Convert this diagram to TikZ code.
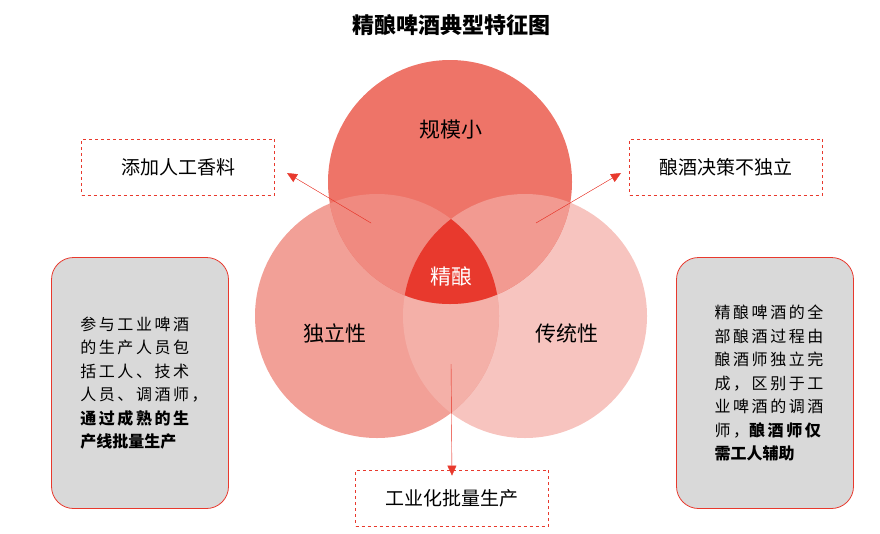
\documentclass[tikz,border=0pt]{standalone}
\usepackage{fontspec}
\setmainfont{Noto Sans CJK SC}
\newfontfamily\spaced[LetterSpace=16]{Noto Sans CJK SC}
\usetikzlibrary{arrows.meta}
\definecolor{topred}{HTML}{EE7468}
\definecolor{leftred}{HTML}{F2A097}
\definecolor{rightred}{HTML}{F7C4BF}
\definecolor{tlred}{HTML}{F08A80}
\definecolor{trred}{HTML}{F29A91}
\definecolor{lrred}{HTML}{F4B0A8}
\definecolor{corered}{HTML}{E8392D}
\definecolor{boxgray}{HTML}{D9D9D9}
\tikzset{
  dashbox/.style={draw=corered, dashed, thick, minimum width=193, minimum height=56, font=\fontsize{19}{22}\selectfont},
  notebox/.style={draw=corered, fill=boxgray, rounded corners=22, minimum width=177, minimum height=251, thick},
  pointer/.style={-{Triangle[length=10pt,width=9pt]}, draw=corered, fill=corered},
  circlabel/.style={font=\fontsize{21}{24}\selectfont}
}
\begin{document}
\begin{tikzpicture}[x=1pt,y=-1pt]
  \useasboundingbox (0,0) rectangle (880,533);
  \node[font=\bfseries\fontsize{22}{26}\selectfont] (title) at (451,25) {精酿啤酒典型特征图};
  % circles
  \coordinate (T) at (450,182);
  \coordinate (L) at (377,316);
  \coordinate (R) at (525,316);
  \fill[rightred] (R) circle (122);
  \fill[leftred] (L) circle (122);
  \fill[topred] (T) circle (122);
  \begin{scope}
    \clip (L) circle (122);
    \fill[lrred] (R) circle (122);
  \end{scope}
  \begin{scope}
    \clip (T) circle (122);
    \fill[tlred] (L) circle (122);
    \fill[trred] (R) circle (122);
    \clip (L) circle (122);
    \fill[corered] (R) circle (122);
  \end{scope}
  % labels
  \node[circlabel] (small) at (451,130) {规模小};
  \node[circlabel] (indep) at (335,333) {独立性};
  \node[circlabel] (trad) at (567,333) {传统性};
  \node[circlabel, text=white] (craft) at (451,276) {精酿};
  % dashed boxes
  \node[dashbox] (spice) at (178,167) {添加人工香料};
  \node[dashbox] (decide) at (726,167) {酿酒决策不独立};
  \node[dashbox] (mass) at (452,498) {工业化批量生产};
  \coordinate (a1) at (371,223);
  \coordinate (a2) at (536,223);
  \coordinate (a3) at (451,364);
  \coordinate (b1) at (287,173);
  \coordinate (b2) at (621,173);
  \draw[pointer] (a1) -- (b1);
  \draw[pointer] (a2) -- (b2);
  \draw[pointer] (a3) -- ([yshift=-6]mass.north);
  % notes
  \node[notebox] (lnote) at (140,383) {};
  \node[notebox] (rnote) at (765,383) {};
  \node[align=left, font=\fontsize{16}{23.5}\selectfont] at ([xshift=4]lnote.center)
    {{\spaced 参与工业啤酒}\\{\spaced 的生产人员包}\\{\spaced 括工人、技术}\\{\spaced 人员、调酒师，}\\{\spaced\bfseries 通过成熟的生}\\{\bfseries 产线批量生产}};
  \node[align=left, font=\fontsize{16}{23.5}\selectfont] at ([xshift=4]rnote.center)
    {{\spaced 精酿啤酒的全}\\{\spaced 部酿酒过程由}\\{\spaced 酿酒师独立完}\\{\spaced 成，区别于工}\\{\spaced 业啤酒的调酒}\\{\spaced 师，\bfseries 酿酒师仅}\\{\bfseries 需工人辅助}};
\end{tikzpicture}
\end{document}
